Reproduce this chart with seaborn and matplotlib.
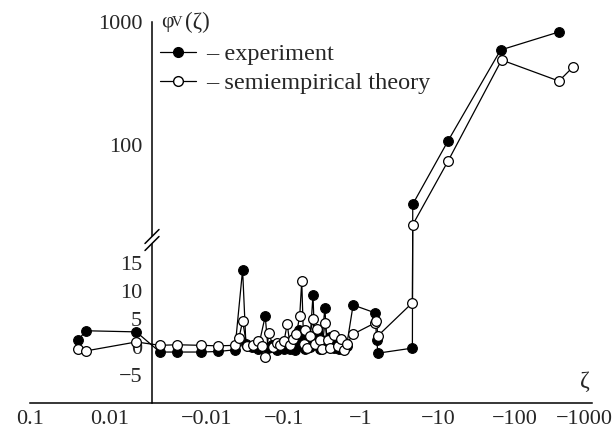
import numpy as np
import matplotlib
matplotlib.use("Agg")
import matplotlib.pyplot as plt
import seaborn as sns
from matplotlib.ticker import FixedLocator, FixedFormatter, NullFormatter
from matplotlib.lines import Line2D
from matplotlib.patches import Polygon
from matplotlib.transforms import ScaledTranslation

# values
zeta_exp = [0.025, 0.02, 0.0047, -0.00245, -0.0041, -0.0084, -0.014, -0.023,
            -0.029, -0.032, -0.038, -0.046, -0.057, -0.062, -0.07, -0.08,
            -0.09, -0.1, -0.11, -0.12, -0.13, -0.14, -0.155, -0.165, -0.18,
            -0.19, -0.2, -0.215, -0.238, -0.25, -0.27, -0.29, -0.31, -0.34,
            -0.36, -0.4, -0.44, -0.48, -0.52, -0.56, -0.6, -0.65, -0.79,
            -1.52, -1.6, -1.66, -4.65, -4.7, -13.5, -65, -372]
phi_exp = [1.25, 2.9, 2.7, -0.9, -0.9, -0.9, -0.8, -0.5,
           13.8, 0.5, 0.0, -0.3, 5.5, -0.2, 0.3, -0.5,
           0.2, -0.4, 0.5, -0.3, 1.0, -0.5, 3.0, 0.5, 1.5,
           -0.4, 2.0, 0.0, 9.3, 0.8, 2.5, -0.3, 1.2, 7.0,
           0.3, 1.8, -0.2, 0.8, -0.4, 1.0, -0.3, 0.2, 7.5,
           6.1, 1.2, -1.1, -0.2, 33, 108, 592, 830]

zeta_theory = [0.025, 0.02, 0.0047, -0.00245, -0.0041, -0.0084, -0.014, -0.023,
               -0.026, -0.029, -0.033, -0.04, -0.046, -0.052, -0.057, -0.064,
               -0.072, -0.08, -0.09, -0.1, -0.11, -0.12, -0.13, -0.145, -0.16,
               -0.17, -0.18, -0.19, -0.2, -0.215, -0.238, -0.25, -0.27, -0.29,
               -0.31, -0.34, -0.37, -0.4, -0.45, -0.5, -0.55, -0.6, -0.65,
               -0.79, -1.52, -1.58, -1.66, -4.65, -4.7, -13.5, -67, -372, -561]
phi_theory = [-0.4, -0.7, 0.9, 0.3, 0.4, 0.3, 0.2, 0.3,
              1.6, 4.6, 0.2, 0.4, 1.0, 0.2, -1.8, 2.5,
              0.0, 0.8, 0.4, 1.0, 4.1, 0.3, 1.5, 2.4, 5.5,
              11.8, 0.5, 3.0, -0.2, 2.0, 5.0, 0.6, 3.3, 1.3,
              -0.4, 4.3, 1.2, -0.1, 2.2, 0.2, 1.5, -0.5, 0.5,
              2.3, 4.3, 4.6, 2.0, 7.9, 22.5, 74, 491, 331, 428]

x_major = [0.1, 0.01, -0.01, -0.1, -1, -10, -100, -1000]
x_major_labels = ["0.1", "0.01", "\u22120.01", "\u22120.1", "\u22121",
                  "\u221210", "\u2212100", "\u22121000"]
y_major = [-5, 0, 5, 10, 15, 100, 1000]
y_major_labels = ["\u22125", "0", "5", "10", "15", "100", "1000"]
legend_labels = ["\u2013 experiment", "\u2013 semiempirical theory"]

# x axis: positive zeta on a reversed log scale, then negative zeta on log |zeta|
# (forward is increasing in zeta, the axis is inverted by the limits)
POS_DEC, NEG_DEC, NEG_OFF, SPLIT = 80.0, 77.0, 177.0, 122.0


def x_fwd(z):
    z = np.asarray(z, dtype=float)
    a = np.log10(np.maximum(np.abs(z), 1e-12))
    u = np.where(z > 0, POS_DEC * (-a - 1), NEG_OFF + NEG_DEC * (a + 2))
    return -u


def x_inv(w):
    u = -np.asarray(w, dtype=float)
    with np.errstate(over="ignore"):
        pos = 10 ** np.clip(-(u / POS_DEC) - 1, -30, 30)
        neg = -10 ** np.clip((u - NEG_OFF) / NEG_DEC - 2, -30, 30)
    return np.where(u < SPLIT, pos, neg)


# y axis: linear below the break, log above it
LIN_PX, LOG_PX = 5.6, 123.0
LIN_TOP, LOG_BOT = 18.0, 19.0
V_L = LIN_PX * LIN_TOP
V_H = 202 + LOG_PX * (np.log10(LOG_BOT) - 2)


def y_fwd(y):
    y = np.asarray(y, dtype=float)
    lin = LIN_PX * y
    br = V_L + (y - LIN_TOP) * (V_H - V_L) / (LOG_BOT - LIN_TOP)
    lg = 202 + LOG_PX * (np.log10(np.maximum(y, 1e-12)) - 2)
    return np.where(y <= LIN_TOP, lin, np.where(y < LOG_BOT, br, lg))


def y_inv(v):
    v = np.asarray(v, dtype=float)
    lin = v / LIN_PX
    br = LIN_TOP + (v - V_L) * (LOG_BOT - LIN_TOP) / (V_H - V_L)
    with np.errstate(over="ignore"):
        lg = 10 ** np.clip((v - 202) / LOG_PX + 2, -30, 30)
    return np.where(v <= V_L, lin, np.where(v < V_H, br, lg))


sns.set_style("white")
plt.rcParams["font.family"] = ["Liberation Serif", "DejaVu Serif"]

W, H = 616, 434
fig = plt.figure(figsize=(W / 100, H / 100), dpi=100)
ax = fig.add_axes([30 / W, 31 / H, 562 / W, 381 / H])
ax.set_xscale("function", functions=(x_fwd, x_inv))
ax.set_yscale("function", functions=(y_fwd, y_inv))

sns.lineplot(x=zeta_exp, y=phi_exp, ax=ax, sort=False, estimator=None,
             color="black", linewidth=0.9, marker="o", markersize=7,
             markerfacecolor="black", markeredgecolor="black",
             markeredgewidth=0.8, zorder=2)
sns.lineplot(x=zeta_theory, y=phi_theory, ax=ax, sort=False, estimator=None,
             color="black", linewidth=0.9, marker="o", markersize=7,
             markerfacecolor="white", markeredgecolor="black",
             markeredgewidth=0.9, zorder=3)

ax.set_xlim(0.1, -1000)
ax.set_ylim(-10, 1000)

# ticks
x_minor = ([k * 0.01 for k in range(2, 10)] + [k * 0.001 for k in range(3, 10)]
           + [-k * 10.0 ** e for e in range(-3, 3) for k in range(2, 10)])
x_minor = [v for v in x_minor if v != -0.002]
ax.xaxis.set_major_locator(FixedLocator(x_major))
ax.xaxis.set_major_formatter(FixedFormatter(x_major_labels))
ax.xaxis.set_minor_locator(FixedLocator(x_minor))
ax.xaxis.set_minor_formatter(NullFormatter())

y_minor = [-7.5, -2.5, 2.5, 7.5, 12.5] + [k * 10 for k in range(3, 10)] \
          + [k * 100 for k in range(2, 10)]
ax.yaxis.set_major_locator(FixedLocator(y_major))
ax.yaxis.set_major_formatter(FixedFormatter(y_major_labels))
ax.yaxis.set_minor_locator(FixedLocator(y_minor))
ax.yaxis.set_minor_formatter(NullFormatter())

ax.tick_params(axis="x", which="major", direction="in", length=6, width=1,
               labelsize=16, pad=5, color="black")
ax.tick_params(axis="x", which="minor", direction="in", length=3, width=0.8,
               color="black")
ax.tick_params(axis="y", which="major", direction="in", length=5, width=1,
               labelsize=16, pad=7, color="black")
ax.tick_params(axis="y", which="minor", direction="in", length=4, width=0.8,
               color="black")

# the last x label sits a little to the left of its tick, as in the source
last = ax.xaxis.get_major_ticks()[-1].label1
last.set_transform(last.get_transform()
                   + ScaledTranslation(-8 / 100, 0, fig.dpi_scale_trans))

for side in ["top", "right"]:
    ax.spines[side].set_visible(False)
for side in ["left", "bottom"]:
    ax.spines[side].set_color("black")
    ax.spines[side].set_linewidth(1.1)
spine_x = 122 / 562
ax.spines["left"].set_position(("axes", spine_x))

# axis break mark on the y axis
by = (403 - 240) / 381
dx, dy, gap = 7 / 562, 7 / 381, 3.5 / 381
ax.add_patch(Polygon([[spine_x - dx, by - dy - gap], [spine_x + dx, by + dy - gap],
                      [spine_x + dx, by + dy + gap], [spine_x - dx, by - dy + gap]],
                     closed=True, transform=ax.transAxes, facecolor="white",
                     edgecolor="none", clip_on=False, zorder=5))
for off in (-gap, gap):
    ax.add_line(Line2D([spine_x - dx, spine_x + dx], [by - dy + off, by + dy + off],
                       transform=ax.transAxes, color="black", lw=1.1,
                       clip_on=False, zorder=6))

# legend
handles = [Line2D([], [], color="black", lw=0.9, marker="o", markersize=7,
                  markerfacecolor="black", markeredgecolor="black"),
           Line2D([], [], color="black", lw=0.9, marker="o", markersize=7,
                  markerfacecolor="white", markeredgecolor="black")]
ax.legend(handles, legend_labels, loc="upper left",
          bbox_to_anchor=(160 / W, 1 - 43 / H), bbox_transform=fig.transFigure,
          frameon=False, borderpad=0, borderaxespad=0, handlelength=1.5,
          handletextpad=0.4, labelspacing=0.3, fontsize=17.5, numpoints=1)

# axis titles
fig.text(161 / W, 1 - 22 / H, "\u03c6", fontsize=15.5, ha="left", va="center")
fig.text(172 / W, 1 - 23 / H, "V", fontsize=10.5, ha="left", va="center")
fig.text(185 / W, 1 - 22 / H, "(\u03b6)", fontsize=16.5, ha="left", va="center")
fig.text(585 / W, 1 - 382 / H, "\u03b6", fontsize=17, ha="center", va="center")

fig.savefig("out.png", dpi=100, facecolor="white")
